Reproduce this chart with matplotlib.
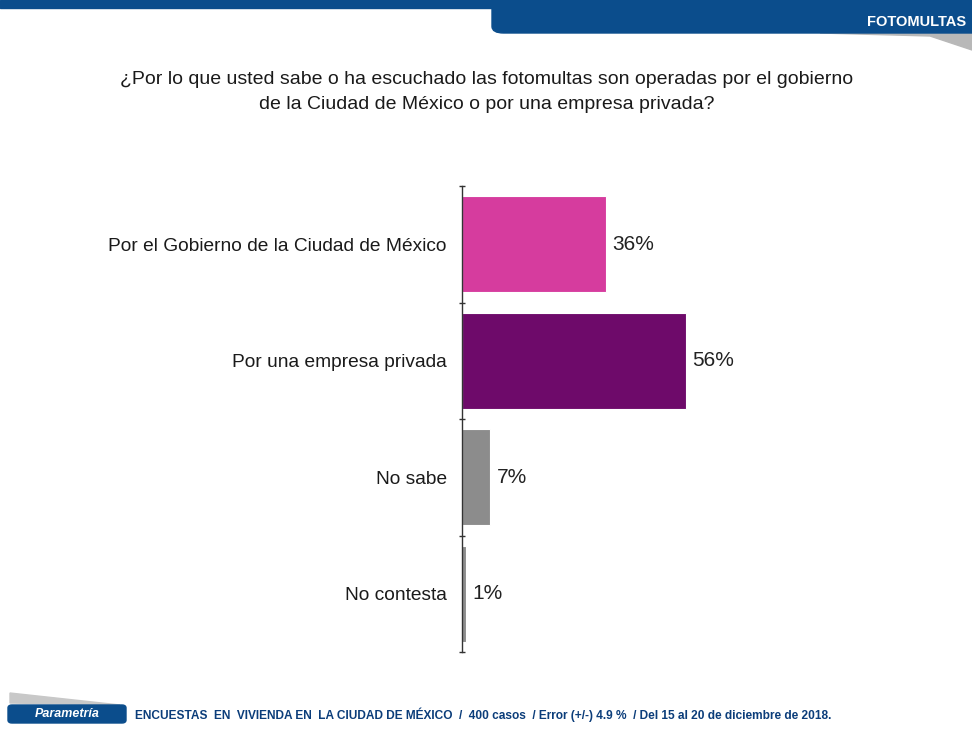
import matplotlib
matplotlib.use("Agg")
import matplotlib.pyplot as plt
from matplotlib.patches import FancyBboxPatch, Rectangle, Polygon

categories = ["Por el Gobierno de la Ciudad de México", "Por una empresa privada", "No sabe", "No contesta"]
values = [36, 56, 7, 1]
value_labels = ["36%", "56%", "7%", "1%"]
colors = ["#D63C9E", "#6E0A6A", "#8C8C8C", "#8C8C8C"]

title = "¿Por lo que usted sabe o ha escuchado las fotomultas son operadas por el gobierno\nde la Ciudad de México o por una empresa privada?"
section = "FOTOMULTAS"
footer = "ENCUESTAS  EN  VIVIENDA EN  LA CIUDAD DE MÉXICO  /  400 casos  / Error (+/-) 4.9 %  / Del 15 al 20 de diciembre de 2018."
brand = "Parametría"

W, H = 972, 730
fig = plt.figure(figsize=(W / 100, H / 100), dpi=100)
fig.patch.set_facecolor("white")
font = ["Liberation Sans", "DejaVu Sans"]

# banner
blue = "#0B4D8C"
fig.patches.append(Rectangle((0, 1 - 8 / H), 1, 8 / H, transform=fig.transFigure, color=blue, zorder=1))
fig.patches.append(Polygon([(820 / W, 1 - 33 / H), (972 / W, 1 - 33 / H), (972 / W, 1 - 50 / H), (930 / W, 1 - 36 / H)],
                           closed=True, transform=fig.transFigure, color="#B8B8B8", zorder=1))
fig.patches.append(FancyBboxPatch((492 / W, 1 - 33 / H), 500 / W, 40 / H, boxstyle="round,pad=0,rounding_size=0.012",
                                  transform=fig.transFigure, color=blue, zorder=2, mutation_aspect=H / W))
fig.text(966 / W, 1 - 22 / H, section, ha="right", va="center", color="white", fontsize=10.5,
         fontweight="bold", family=font)

# title
fig.text(487 / W, 1 - 92 / H, title, ha="center", va="center", fontsize=14, family=font,
         color="#1a1a1a", linespacing=1.6)

# axes
ax = fig.add_axes([462 / W, 1 - 652 / H, 400 / W, 466 / H])
ax.set_facecolor("none")
y = list(range(len(categories)))
ax.barh(y, values, height=0.82, color=colors, edgecolor="white", linewidth=0.8)
ax.set_xlim(0, 100)
ax.set_ylim(len(categories) - 0.5, -0.5)
ax.set_yticks([i - 0.5 for i in range(len(categories) + 1)], minor=False)
ax.set_yticklabels([])
ax.set_yticks(y, minor=True)
ax.set_yticklabels(categories, minor=True, fontsize=13.8, family=font, color="#1a1a1a")
ax.tick_params(axis="y", which="major", length=5, width=1, direction="inout", color="#333333")
ax.tick_params(axis="y", which="minor", length=0, pad=11)
ax.set_xticks([])
for s in ["top", "right", "bottom"]:
    ax.spines[s].set_visible(False)
ax.spines["left"].set_color("#333333")
ax.spines["left"].set_linewidth(1)
for i, (v, lab) in enumerate(zip(values, value_labels)):
    ax.text(v + 1.6, i, lab, va="center", ha="left", fontsize=15, family=font, color="#222222")

# footer
fig.patches.append(Polygon([(10 / W, 1 - 693 / H), (10 / W, 1 - 703 / H), (120 / W, 1 - 705 / H)], closed=True,
                           transform=fig.transFigure, color="#C8C8C8", zorder=1))
fig.patches.append(FancyBboxPatch((8 / W, 1 - 723 / H), 118 / W, 18 / H, boxstyle="round,pad=0,rounding_size=0.004",
                                  transform=fig.transFigure, color=blue, zorder=2))
fig.text(67 / W, 1 - 714 / H, brand, ha="center", va="center", color="white", fontsize=9, fontstyle="italic",
         fontweight="bold", family=font)
fig.text(135 / W, 1 - 715 / H, footer, ha="left", va="center", color="#0B3D7A", fontsize=8.6, family=font,
         fontweight="bold")

fig.savefig("out.png", dpi=100)
